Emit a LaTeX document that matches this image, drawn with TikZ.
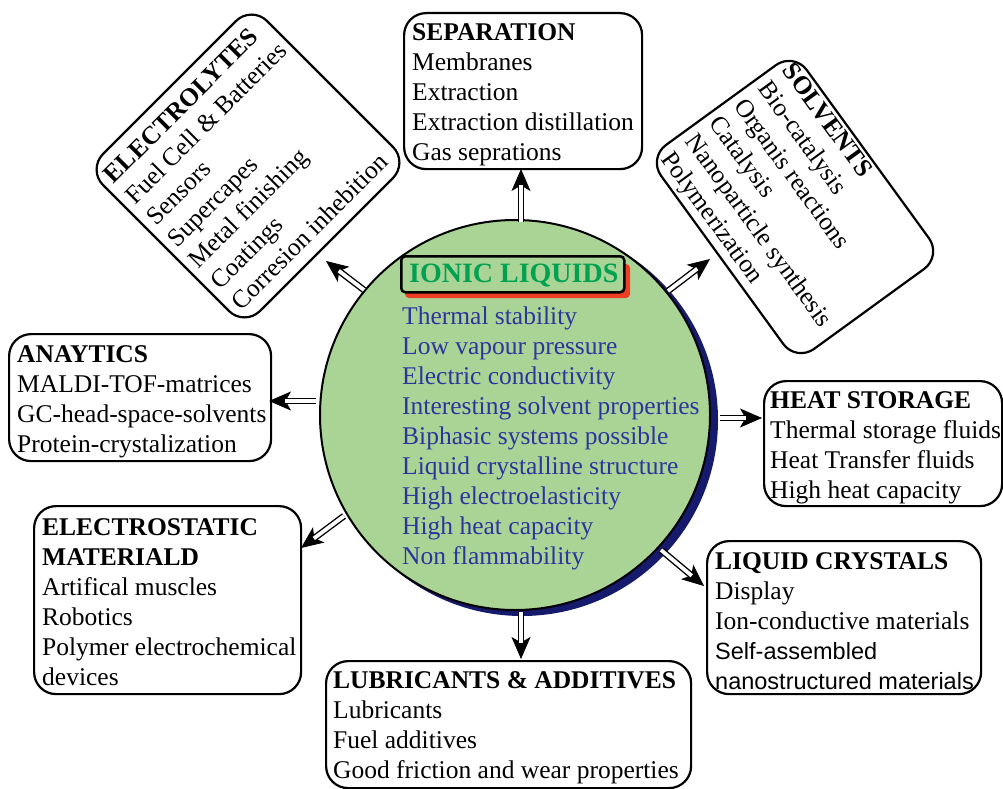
\documentclass[tikz,border=0pt]{standalone}
\usepackage{fontspec}
\setmainfont{Liberation Serif}
\newfontfamily\sansf{Liberation Sans}
\usetikzlibrary{arrows.meta,calc}
\definecolor{ilfill}{RGB}{170,212,150}
\definecolor{ilnavy}{RGB}{22,26,108}
\definecolor{iltext}{RGB}{45,52,158}
\definecolor{iltitle}{RGB}{0,162,82}
\definecolor{ilred}{RGB}{238,62,36}
\newcommand\dbarrow[2]{%
  \draw[headtip] ($(#2)!22pt!(#1)$) -- (#2);
  \draw[shaft] (#1) -- ($(#2)!16pt!(#1)$);
}
\begin{document}
\begin{tikzpicture}[x=1pt,y=-1pt,
  catbox/.style={draw, line width=2.2pt, rounded corners=22pt, inner sep=0pt, anchor=north west},
  txt/.style={align=left, inner sep=0pt, anchor=west, font=\fontsize{25.5}{30}\selectfont},
  shaft/.style={draw, line width=1.4pt, double=white, double distance=3.8pt},
  headtip/.style={line width=0.8pt, -{Stealth[length=22pt,width=19pt,inset=5.5pt]}}
]
\useasboundingbox (0,0) rectangle (1003,789);

% central circle
\node[circle, fill=ilnavy, minimum size=392pt, inner sep=0pt] (ionshadow) at (522,420) {};
\node[circle, draw, line width=2pt, fill=ilfill, minimum size=390pt, inner sep=0pt] (ion) at (515,415) {};

% title box
\fill[ilred, rounded corners=4pt] (405,264) rectangle (630,298);
\node[draw, line width=2.5pt, rounded corners=4pt, fill=ilfill, minimum width=223pt, minimum height=36pt, inner sep=0pt, anchor=north west] (ilbox) at (400,255) {};
\node[inner sep=0pt, text=iltitle, font=\fontsize{28}{30}\selectfont\bfseries] (iltx) at ($(ilbox)+(1,1)$) {IONIC LIQUIDS};

\node[txt, text=iltext] (props) at (402,438) {Thermal stability\\Low vapour pressure\\Electric conductivity\\Interesting solvent properties\\Biphasic systems possible\\Liquid crystalline structure\\High electroelasticity\\High heat capacity\\Non flammability};

% SEPARATION
\node[catbox, minimum width=238pt, minimum height=156pt] (sep) at (403,12) {};
\node[txt] (septx) at ($(sep.west)+(9,4)$) {\textbf{SEPARATION}\\Membranes\\Extraction\\Extraction distillation\\Gas seprations};

% ANAYTICS
\node[catbox, minimum width=262pt, minimum height=127pt] (ana) at (8,333) {};
\node[txt] (anatx) at ($(ana.west)+(9,4)$) {\textbf{ANAYTICS}\\MALDI-TOF-matrices\\GC-head-space-solvents\\Protein-crystalization};

% HEAT STORAGE
\node[catbox, minimum width=238pt, minimum height=125pt] (heat) at (763,380) {};
\node[txt] (heattx) at ($(heat.west)+(7,4)$) {\textbf{HEAT STORAGE}\\Thermal storage fluids\\Heat Transfer fluids\\High heat capacity};

% ELECTROSTATIC
\node[catbox, minimum width=267pt, minimum height=188pt] (est) at (33,505) {};
\node[txt] (esttx) at ($(est.west)+(9,2)$) {\textbf{ELECTROSTATIC}\\\textbf{MATERIALD}\\Artifical muscles\\Robotics\\Polymer electrochemical\\devices};

% LIQUID CRYSTALS
\node[catbox, minimum width=274pt, minimum height=153pt] (lc) at (706,540) {};
\node[txt] (lctx) at ($(lc.west)+(9,4)$) {\textbf{LIQUID CRYSTALS}\\Display\\Ion-conductive materials\\{\sansf\fontsize{23.5}{30}\selectfont Self-assembled}\\{\sansf\fontsize{23.5}{30}\selectfont nanostructured materials}};

% LUBRICANTS
\node[catbox, minimum width=365pt, minimum height=127pt] (lub) at (325,660) {};
\node[txt] (lubtx) at ($(lub.west)+(8,3)$) {\textbf{LUBRICANTS \& ADDITIVES}\\Lubricants\\Fuel additives\\Good friction and wear properties};

% ELECTROLYTES (rotated)
\node[catbox, anchor=center, rotate=45, minimum width=232pt, minimum height=222pt] (ele) at (248,166) {};
\node[txt, rotate=45] (eletx) at ($(ele.west)!9pt!(ele.east)$) {\textbf{ELECTROLYTES}\\Fuel Cell \& Batteries\\Sensors\\Supercapes\\Metal finishing\\Coatings\\Corresion inhebition};

% SOLVENTS (rotated)
\node[catbox, anchor=center, rotate=-54, minimum width=252pt, minimum height=180pt] (sol) at (795,207) {};
\node[txt, rotate=-54] (soltx) at ($(sol.west)!9pt!(sol.east)$) {\textbf{SOLVENTS}\\Bio-catalysis\\Organis reactions\\Catalysis\\Nanoparticle synthesis\\Polymerization};

% arrow end points
\coordinate (s1) at (521,222);  \coordinate (e1) at (521,169);
\coordinate (s2) at (668,291);  \coordinate (e2) at (710,259);
\coordinate (s3) at (720,418);  \coordinate (e3) at (762,418);
\coordinate (s4) at (661,550);  \coordinate (e4) at (704,586);
\coordinate (s5) at (521,612);  \coordinate (e5) at (521,659);
\coordinate (s6) at (344,516);  \coordinate (e6) at (301,548);
\coordinate (s7) at (316,401);  \coordinate (e7) at (269,401);
\coordinate (s8) at (364,290);  \coordinate (e8) at (326,261);

\dbarrow{s1}{e1}
\dbarrow{s2}{e2}
\dbarrow{s3}{e3}
\dbarrow{s4}{e4}
\dbarrow{s5}{e5}
\dbarrow{s6}{e6}
\dbarrow{s7}{e7}
\dbarrow{s8}{e8}
\end{tikzpicture}
\end{document}
